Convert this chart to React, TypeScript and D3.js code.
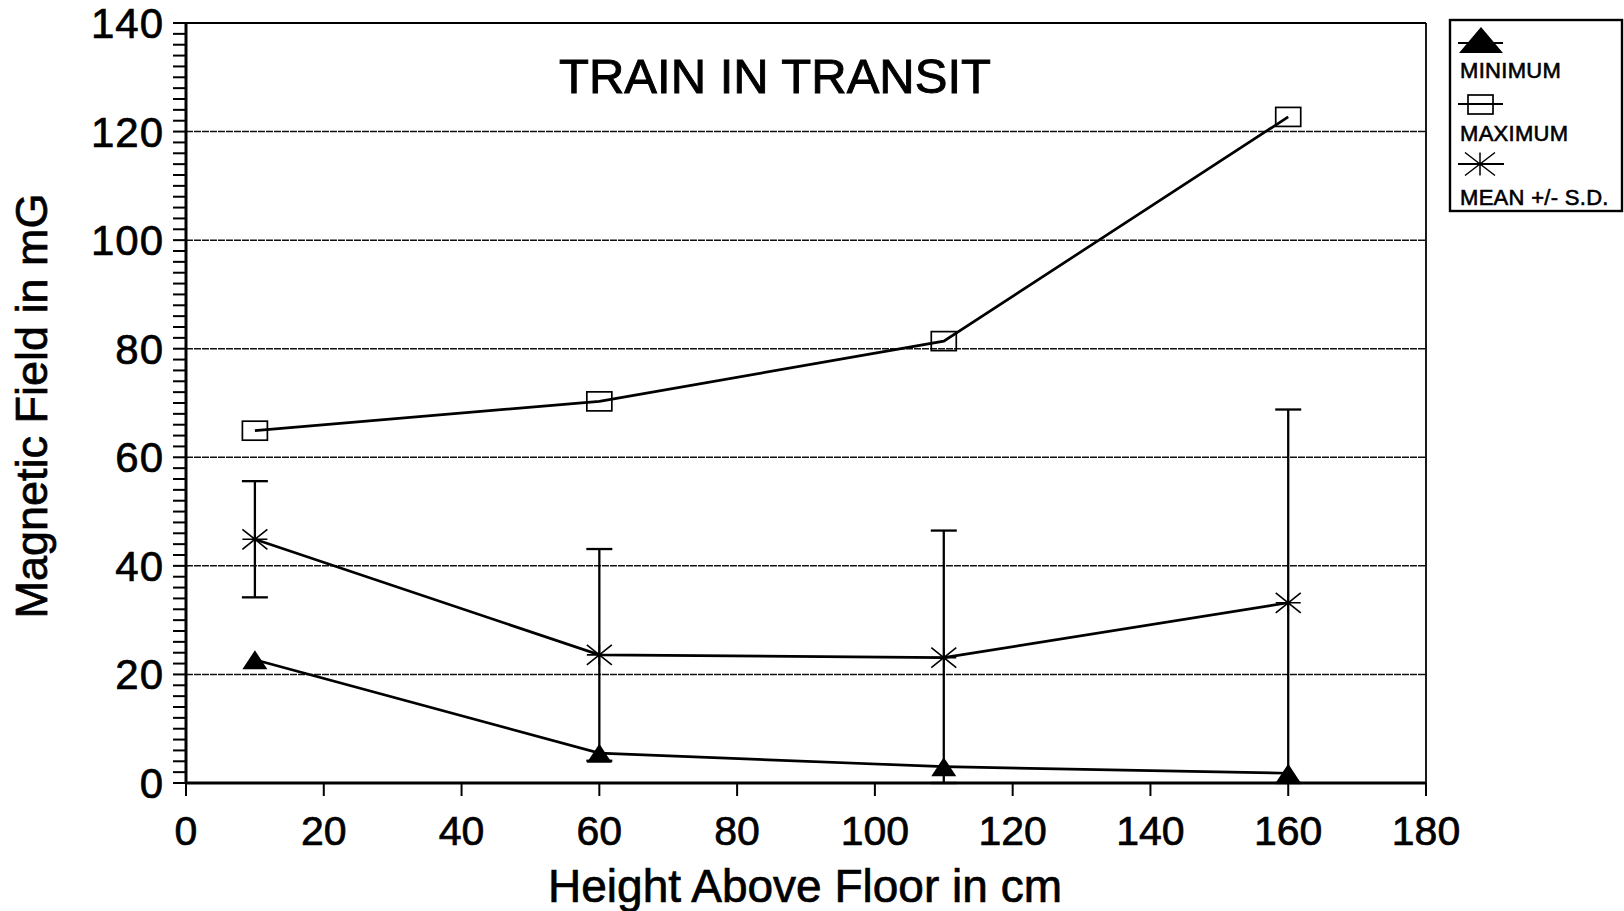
import React from 'react';
import * as d3 from 'd3';

// Values
const heights = [10, 60, 110, 160];
const minimum = [22.7, 5.5, 3.0, 1.8];
const maximum = [64.9, 70.3, 81.4, 122.7];
const mean = [44.9, 23.6, 23.1, 33.2];
const sd = [10.7, 19.5, 23.4, 35.6];

const xTicks = [0, 20, 40, 60, 80, 100, 120, 140, 160, 180];
const yTicks = [0, 20, 40, 60, 80, 100, 120, 140];
const gridValues = [20, 40, 60, 80, 100, 120];

const FONT = "'Liberation Sans', Arial, Helvetica, sans-serif";

const App: React.FC = () => {
  const width = 1624;
  const height = 911;
  const left = 186;
  const right = 1426;
  const top = 23;
  const bottom = 783;

  const x = d3.scaleLinear().domain([0, 180]).range([left, right]);
  const y = d3.scaleLinear().domain([0, 140]).range([bottom, top]);

  const line = d3.line<[number, number]>()
    .x(d => x(d[0]))
    .y(d => y(d[1]));

  const zip = (vals: number[]) => heights.map((h, i) => [h, vals[i]] as [number, number]);

  const minorY = d3.range(0, 141, 2);

  const triangle = (cx: number, cy: number, w: number, h: number) =>
    `M${cx},${cy - h / 2}L${cx + w / 2},${cy + h / 2}L${cx - w / 2},${cy + h / 2}Z`;

  const asterisk = (cx: number, cy: number, w: number, h: number) =>
    `M${cx - w / 2},${cy}L${cx + w / 2},${cy}M${cx},${cy - h / 2}L${cx},${cy + h / 2}` +
    `M${cx - w / 2},${cy - h / 2}L${cx + w / 2},${cy + h / 2}M${cx - w / 2},${cy + h / 2}L${cx + w / 2},${cy - h / 2}`;

  // scanned text is a little heavier than plain regular weight
  const ink = { fill: '#000', stroke: '#000', strokeWidth: 0.7 };

  return (
    <svg
      width={width}
      height={height}
      style={{ position: 'absolute', left: 0, top: 0, background: '#fff' }}
      fontFamily={FONT}
    >
      <rect x={0} y={0} width={width} height={height} fill="#fff" />

      {/* grid */}
      {gridValues.map(v => (
        <line key={'g' + v} x1={left} x2={right} y1={y(v)} y2={y(v)}
          stroke="#111" strokeWidth={1.5} strokeDasharray="7 1" />
      ))}

      {/* frame */}
      <line x1={left} x2={right} y1={top} y2={top} stroke="#000" strokeWidth={1.8} />
      <line x1={right} x2={right} y1={top} y2={bottom} stroke="#000" strokeWidth={1.8} />

      {/* y axis */}
      <line x1={left} x2={left} y1={top - 1} y2={bottom + 1} stroke="#000" strokeWidth={3} />
      {minorY.map(v => (
        <line key={'ym' + v} x1={left - 13} x2={left} y1={y(v)} y2={y(v)} stroke="#000" strokeWidth={2} />
      ))}
      {yTicks.map(v => (
        <text key={'yl' + v} x={left - 22} y={y(v) + 15} textAnchor="end"
          fontSize={42} letterSpacing={1} {...ink}>{v}</text>
      ))}

      {/* x axis */}
      <line x1={left - 1} x2={right} y1={bottom} y2={bottom} stroke="#000" strokeWidth={3} />
      {xTicks.map(v => (
        <g key={'x' + v}>
          <line x1={x(v)} x2={x(v)} y1={bottom} y2={bottom + 13} stroke="#000" strokeWidth={2} />
          <text x={x(v)} y={bottom + 62} textAnchor="middle" fontSize={41} {...ink}>{v}</text>
        </g>
      ))}

      {/* axis titles */}
      <text x={805} y={902} textAnchor="middle" fontSize={46} {...ink}>Height Above Floor in cm</text>
      <text transform="translate(47,406) rotate(-90)" textAnchor="middle" fontSize={45} {...ink}>
        Magnetic Field in mG
      </text>

      {/* title */}
      <text x={775} y={93} textAnchor="middle" fontSize={49} {...ink} strokeWidth={0.9}>
        TRAIN IN TRANSIT
      </text>

      {/* error bars (mean +/- SD) */}
      {heights.map((h, i) => {
        const hi = mean[i] + sd[i];
        const lo = Math.max(0, mean[i] - sd[i]);
        const cx = x(h);
        return (
          <g key={'e' + h} stroke="#000" strokeWidth={2.3}>
            <line x1={cx} x2={cx} y1={y(hi)} y2={y(lo)} />
            <line x1={cx - 13} x2={cx + 13} y1={y(hi)} y2={y(hi)} />
            <line x1={cx - 13} x2={cx + 13} y1={y(lo)} y2={y(lo)} />
          </g>
        );
      })}

      {/* series lines */}
      <path d={line(zip(maximum)) || ''} fill="none" stroke="#000" strokeWidth={2.7} />
      <path d={line(zip(mean)) || ''} fill="none" stroke="#000" strokeWidth={2.7} />
      <path d={line(zip(minimum)) || ''} fill="none" stroke="#000" strokeWidth={2.7} />

      {/* markers */}
      {heights.map((h, i) => (
        <rect key={'mx' + h} x={x(h) - 12.5} y={y(maximum[i]) - 9.5} width={25} height={19}
          fill="none" stroke="#000" strokeWidth={1.7} />
      ))}
      {heights.map((h, i) => (
        <path key={'mn' + h} d={asterisk(x(h), y(mean[i]), 25, 20)} fill="none" stroke="#000" strokeWidth={1.6} />
      ))}
      {heights.map((h, i) => (
        <path key={'mi' + h} d={triangle(x(h), y(minimum[i]), 25, 19)} fill="#000" />
      ))}

      {/* legend */}
      <g>
        <rect x={1450} y={20} width={172} height={191} fill="#fff" stroke="#000" strokeWidth={2.4} />
        <line x1={1458} x2={1503} y1={43} y2={43} stroke="#000" strokeWidth={2.2} />
        <path d={triangle(1481, 40, 44, 26)} fill="#000" />
        <text x={1460} y={78} fontSize={22} letterSpacing={0.3} {...ink} strokeWidth={0.6}>MINIMUM</text>

        <line x1={1458} x2={1503} y1={104} y2={104} stroke="#000" strokeWidth={2.2} />
        <rect x={1468} y={95} width={25} height={19} fill="none" stroke="#000" strokeWidth={1.7} />
        <text x={1460} y={141} fontSize={22} letterSpacing={0.3} {...ink} strokeWidth={0.6}>MAXIMUM</text>

        <line x1={1458} x2={1504} y1={164} y2={164} stroke="#000" strokeWidth={2.2} />
        <path d={asterisk(1480, 164, 30, 23)} fill="none" stroke="#000" strokeWidth={1.5} />
        <text x={1460} y={205} fontSize={22} letterSpacing={0.3} {...ink} strokeWidth={0.6}>MEAN +/- S.D.</text>
      </g>
    </svg>
  );
};

export default App;
